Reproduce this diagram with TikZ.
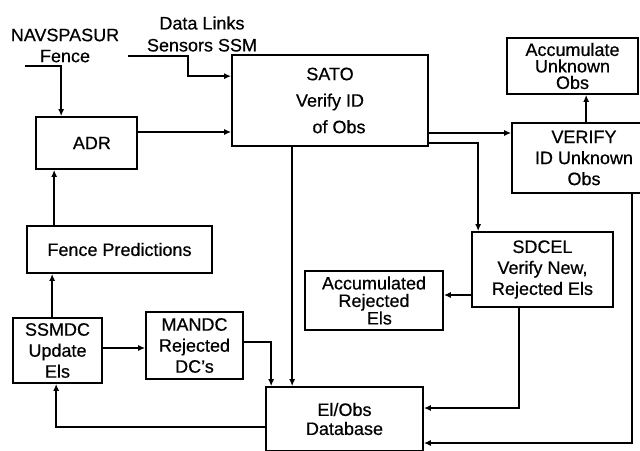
\documentclass[tikz,border=0pt]{standalone}
\usepackage{fontspec}
\setmainfont[FakeBold=0.5]{Liberation Sans}
\usetikzlibrary{arrows.meta,calc}

\begin{document}
\begin{tikzpicture}[
  x=1pt, y=-1pt,
  >={Latex[length=7pt,width=6pt]},
  every node/.style={font=\fontsize{18}{21}\selectfont, inner sep=1pt},
  box/.style={draw, line width=1.7pt, align=center},
  link/.style={->, line width=1.7pt}
]
\useasboundingbox (0,0) rectangle (640,450);
\clip (0,0) rectangle (640,450);

% 箱
\node[box, minimum width=196, minimum height=91, font=\fontsize{18}{26.5}\selectfont]
  (sato) at (330,100.5) {SATO\\Verify ID\\\hspace*{1em}of Obs};
\node[box, minimum width=101, minimum height=52] (adr) at (86.5,143) {\hspace*{0.6em}ADR};
\node[box, minimum width=185, minimum height=47] (fence) at (119.5,249.5) {Fence Predictions};
\node[box, minimum width=89, minimum height=65] (ssmdc) at (57.5,350.5) {SSMDC\\Update\\Els};
\node[box, minimum width=97, minimum height=67] (mandc) at (194.5,345.5) {MANDC\\Rejected\\DC's};
\node[box, minimum width=157, minimum height=64, font=\fontsize{18}{19}\selectfont]
  (db) at (344.5,419) {El/Obs\\Database};

\node[box, minimum width=131, minimum height=56, font=\fontsize{18}{16.5}\selectfont]
  (accunk) at (572.5,66) {Accumulate\\Unknown\\Obs};
\node[box, minimum width=144, minimum height=70] (verify) at (584,158) {VERIFY\\ID Unknown\\Obs};
\node[box, minimum width=141, minimum height=75] (sdcel) at (542.5,269.5) {SDCEL\\Verify New,\\Rejected Els};
\node[box, minimum width=138, minimum height=59, font=\fontsize{18}{17.5}\selectfont]
  (accrej) at (374,300.5) {Accumulated\\Rejected\\\hspace*{0.6em}Els};

% 入力
\node[align=center] (navlbl) at (65,45.5) {NAVSPASUR\\Fence};
\node[align=center, font=\fontsize{18}{22}\selectfont] (dllbl) at (202,34) {Data Links\\Sensors SSM};
\coordinate (navin) at (25,66);
\coordinate (dlin) at (128,56);

\draw[link] (navin) -| ($(adr.north west)+(26,0)$);
\draw[link] (dlin) -- ++(60,0) |- ($(sato.north west)+(0,22)$);

% 左側
\draw[link] ($(adr.east)+(0,-11)$) -- ($(adr.east -| sato.west)+(0,-11)$);
\draw[link] ($(fence.north west)+(28,0)$) -- ($(adr.south west)+(19,0)$);
\draw[link] ($(ssmdc.north west)+(40,0)$) -- ($(fence.south west)+(26,0)$);
\draw[link] ($(ssmdc.east)+(0,-2.5)$) -- ($(ssmdc.east -| mandc.west)+(0,-2.5)$);
\draw[link] ($(mandc.east)+(0,-3.5)$) -| ($(db.north west)+(6,0)$);
\draw[link] ($(sato.south west)+(61,0)$) -- ($(db.north west)+(27,0)$);
\draw[link] ($(db.west)+(0,8)$) -| ($(ssmdc.south west)+(44,0)$);

% 右側
\draw[link] ($(sato.east)+(0,32.5)$) -- ($(sato.east -| verify.west)+(0,32.5)$);
\draw[link] ($(sato.east)+(0,42.5)$) -| ($(sdcel.north west)+(7,0)$);
\draw[link] ($(verify.north west)+(75,0)$) -- ($(accunk.south west)+(80,0)$);
\draw[link] ($(sdcel.west)+(0,25.5)$) -- ($(sdcel.west -| accrej.east)+(0,25.5)$);
\draw[link] ($(sdcel.south west)+(48,0)$) |- ($(db.east)+(0,-11)$);
\draw[link] ($(verify.south west)+(121,0)$) |- ($(db.east)+(0,24)$);
\end{tikzpicture}
\end{document}
